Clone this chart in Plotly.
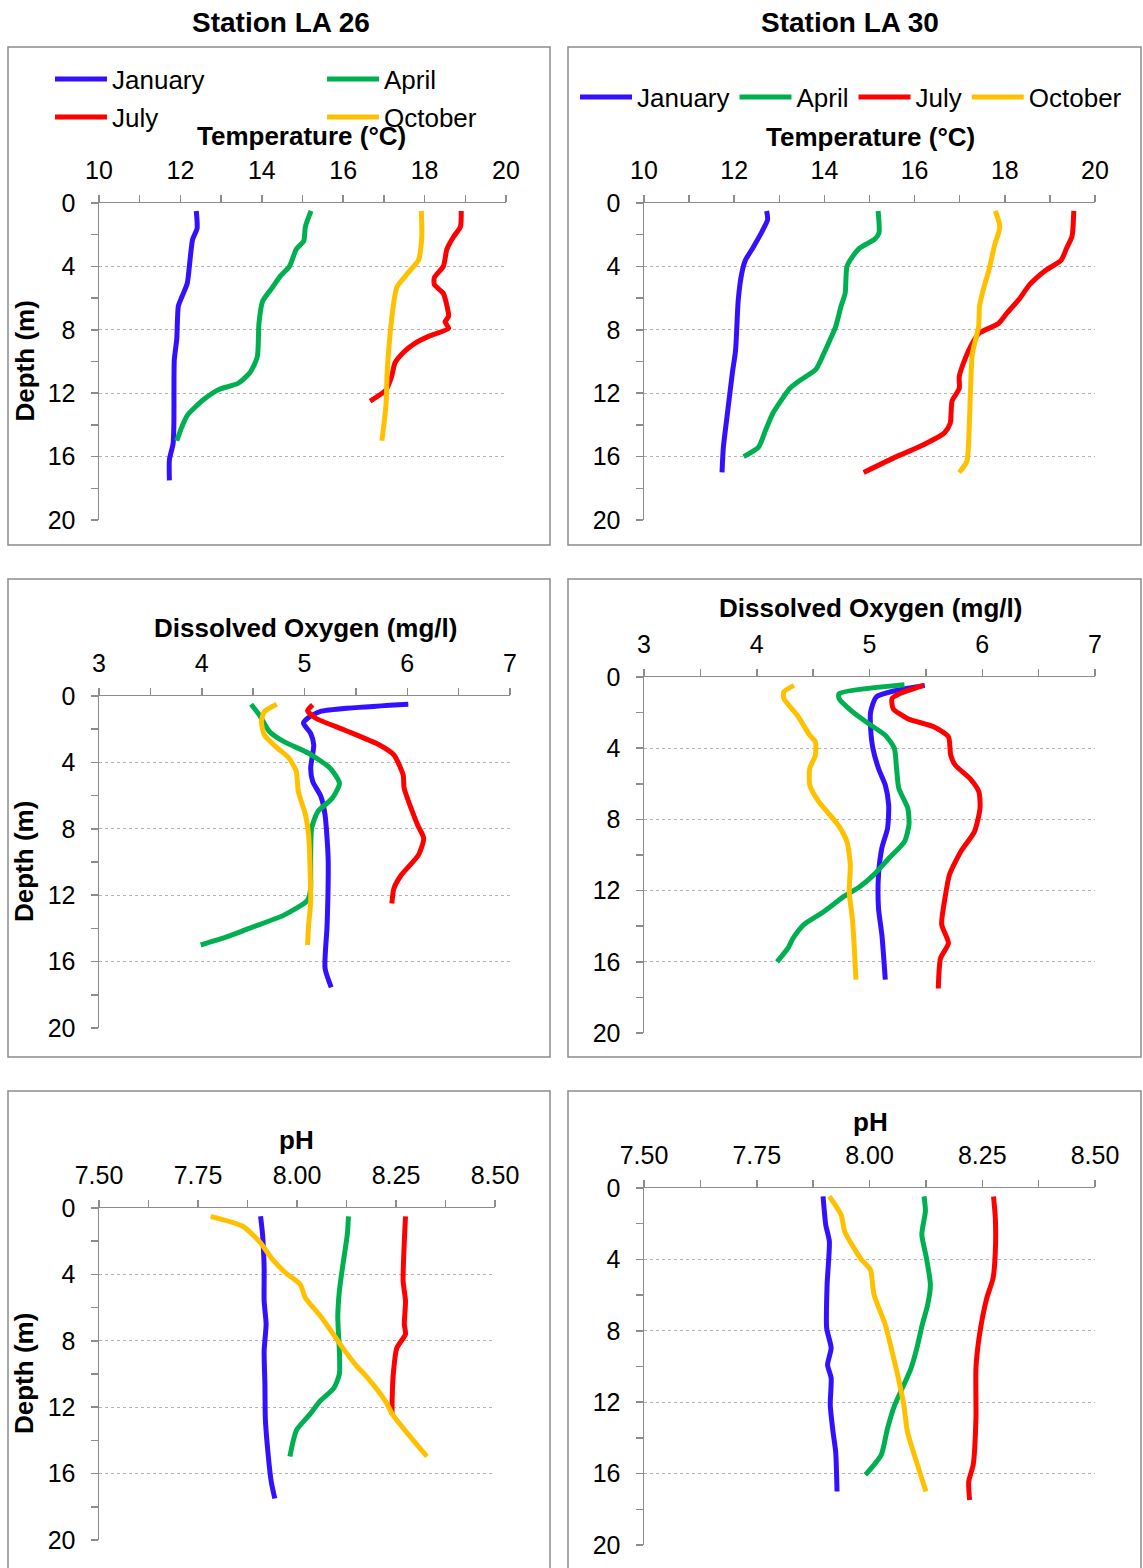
import plotly.graph_objects as go

W, H = 1143, 1568
FONT = "Liberation Sans, Arial, sans-serif"
AXIS_GRAY = "#8c8c8c"
GRID_GRAY = "#b4b4b4"

months = ["January", "April", "July", "October"]
colors = ["#3311FF", "#00B050", "#FF0000", "#FFC000"]
station_titles = ["Station LA 26", "Station LA 30"]
depth_title = "Depth (m)"
param_titles = ["Temperature (°C)", "Dissolved Oxygen (mg/l)", "pH"]

# ---------- Station LA 26 : temperature ----------
t26_jan_val = [12.39, 12.41, 12.30, 12.22, 12.17, 12.04, 11.95, 11.91, 11.85, 11.84, 11.82, 11.73, 11.73]
t26_jan_dep = [0.5, 1.6, 2.3, 4.0, 5.05, 5.9, 6.5, 8.6, 9.9, 13.9, 15.2, 16.2, 17.5]
t26_apr_val = [15.21, 15.07, 15.03, 14.85, 14.68, 14.46, 14.24, 14.02, 13.93, 13.89, 13.71, 13.40, 12.96, 12.57, 12.17, 12.04, 11.91]
t26_apr_dep = [0.5, 1.5, 2.4, 2.9, 4.0, 4.6, 5.4, 6.2, 7.6, 9.7, 10.7, 11.4, 11.75, 12.4, 13.4, 14.1, 15.0]
t26_jul_val = [18.90, 18.88, 18.72, 18.55, 18.46, 18.24, 18.24, 18.46, 18.55, 18.59, 18.50, 18.59, 18.11, 17.76, 17.49, 17.27, 17.19, 17.05, 16.66]
t26_jul_dep = [0.5, 1.5, 2.1, 2.9, 4.0, 4.7, 5.15, 5.7, 6.5, 7.15, 7.5, 7.9, 8.4, 8.85, 9.4, 10.1, 10.95, 11.8, 12.5]
t26_oct_val = [17.92, 17.93, 17.85, 17.63, 17.32, 17.23, 17.14, 17.08, 17.05, 16.95]
t26_oct_dep = [0.5, 2.1, 3.6, 4.3, 5.3, 6.5, 8.6, 10.7, 12.8, 15.0]

# ---------- Station LA 30 : temperature ----------
t30_jan_val = [12.72, 12.74, 12.58, 12.41, 12.25, 12.17, 12.09, 12.03, 11.96, 11.84, 11.76, 11.73]
t30_jan_dep = [0.5, 1.05, 2.0, 2.85, 3.6, 4.4, 6.1, 9.3, 10.7, 13.5, 15.4, 17.0]
t30_apr_val = [15.19, 15.21, 15.11, 14.78, 14.62, 14.50, 14.46, 14.37, 14.25, 14.13, 13.97, 13.81, 13.48, 13.23, 13.03, 12.86, 12.70, 12.54, 12.21]
t30_apr_dep = [0.5, 1.9, 2.3, 2.85, 3.4, 4.0, 5.7, 6.5, 7.8, 8.6, 9.6, 10.5, 11.15, 11.7, 12.5, 13.25, 14.3, 15.4, 16.0]
t30_jul_val = [19.53, 19.49, 19.37, 19.25, 18.88, 18.55, 18.31, 18.06, 17.86, 17.44, 17.28, 17.11, 16.99, 16.99, 16.83, 16.79, 16.66, 16.09, 15.60, 14.87]
t30_jul_dep = [0.5, 2.1, 2.85, 3.6, 4.3, 5.15, 6.1, 6.9, 7.6, 8.2, 8.85, 9.9, 10.95, 11.7, 12.5, 13.9, 14.5, 15.4, 16.0, 17.0]
t30_oct_val = [17.79, 17.89, 17.77, 17.65, 17.52, 17.44, 17.42, 17.28, 17.24, 17.20, 17.16, 16.99]
t30_oct_dep = [0.5, 1.5, 2.7, 4.2, 5.5, 6.5, 7.8, 9.5, 11.8, 14.9, 16.3, 17.0]

# ---------- Station LA 26 : dissolved oxygen ----------
o26_jan_val = [6.01, 5.15, 5.03, 4.99, 5.06, 5.09, 5.06, 5.08, 5.16, 5.20, 5.23, 5.22, 5.20, 5.26]
o26_jan_dep = [0.5, 0.94, 1.34, 1.64, 2.25, 2.95, 4.35, 5.15, 6.06, 7.16, 9.77, 13.8, 16.4, 17.55]
o26_apr_val = [4.48, 4.56, 4.66, 4.80, 5.04, 5.25, 5.34, 5.27, 5.13, 5.07, 5.06, 5.06, 5.03, 4.80, 4.46, 4.25, 3.99]
o26_apr_dep = [0.5, 1.14, 2.15, 2.75, 3.45, 4.35, 5.26, 6.16, 6.96, 7.96, 10.77, 11.6, 12.3, 13.2, 14.0, 14.5, 15.0]
o26_jul_val = [5.08, 5.03, 5.11, 5.39, 5.73, 5.87, 5.96, 5.97, 6.10, 6.16, 6.11, 5.94, 5.87, 5.85]
o26_jul_dep = [0.54, 0.88, 1.34, 2.05, 2.95, 3.55, 4.75, 5.56, 7.76, 8.57, 9.57, 10.8, 11.6, 12.5]
o26_oct_val = [4.73, 4.61, 4.58, 4.61, 4.72, 4.85, 4.92, 4.94, 5.01, 5.04, 5.06, 5.04, 5.03]
o26_oct_dep = [0.5, 0.94, 1.54, 2.35, 3.05, 3.75, 4.55, 5.76, 7.16, 8.37, 12.4, 13.8, 15.0]

# ---------- Station LA 30 : dissolved oxygen ----------
o30_jan_val = [5.49, 5.24, 5.06, 5.01, 5.01, 5.03, 5.08, 5.14, 5.17, 5.16, 5.11, 5.08, 5.08, 5.11, 5.14]
o30_jan_dep = [0.47, 0.75, 1.12, 1.96, 2.9, 4.0, 5.14, 6.07, 7.2, 8.5, 9.6, 11.1, 13.0, 14.5, 17.0]
o30_apr_val = [5.31, 4.73, 4.73, 4.85, 5.01, 5.14, 5.22, 5.24, 5.26, 5.34, 5.35, 5.31, 5.17, 5.04, 4.91, 4.78, 4.59, 4.42, 4.32, 4.28, 4.18]
o30_apr_dep = [0.43, 0.93, 1.21, 1.96, 2.7, 3.27, 4.0, 5.14, 6.26, 7.38, 8.3, 9.25, 10.2, 11.1, 11.8, 12.3, 13.2, 13.9, 14.7, 15.2, 16.0]
o30_jul_val = [5.48, 5.27, 5.20, 5.21, 5.34, 5.57, 5.70, 5.72, 5.76, 5.89, 5.97, 5.98, 5.93, 5.81, 5.71, 5.67, 5.64, 5.70, 5.63, 5.61]
o30_jul_dep = [0.47, 0.93, 1.21, 1.78, 2.34, 2.8, 3.36, 4.39, 4.95, 5.7, 6.45, 7.38, 8.7, 9.8, 11.1, 12.4, 13.9, 14.95, 15.8, 17.5]
o30_oct_val = [4.33, 4.24, 4.24, 4.36, 4.47, 4.52, 4.52, 4.47, 4.47, 4.55, 4.72, 4.80, 4.83, 4.82, 4.85, 4.88]
o30_oct_dep = [0.47, 0.84, 1.21, 2.15, 3.27, 3.64, 4.39, 5.14, 6.07, 7.0, 8.3, 9.25, 10.56, 12.06, 13.7, 17.0]

# ---------- Station LA 26 : pH ----------
p26_jan_val = [7.908, 7.913, 7.917, 7.917, 7.922, 7.917, 7.919, 7.920, 7.925, 7.935, 7.944]
p26_jan_dep = [0.5, 1.6, 3.6, 5.6, 7.0, 8.6, 10.65, 12.66, 14.3, 16.5, 17.5]
p26_apr_val = [8.130, 8.127, 8.116, 8.107, 8.103, 8.107, 8.107, 8.093, 8.057, 8.035, 7.999, 7.990, 7.982]
p26_apr_dep = [0.5, 1.6, 3.4, 5.0, 6.6, 8.6, 10.0, 10.85, 11.66, 12.36, 13.37, 14.07, 14.97]
p26_jul_val = [8.274, 8.271, 8.268, 8.274, 8.271, 8.274, 8.252, 8.243, 8.240, 8.240]
p26_jul_dep = [0.5, 2.0, 4.4, 5.6, 7.0, 7.6, 8.44, 10.05, 11.86, 12.46]
p26_oct_val = [7.782, 7.863, 7.908, 7.935, 7.971, 8.008, 8.021, 8.062, 8.116, 8.148, 8.179, 8.224, 8.242, 8.328]
p26_oct_dep = [0.5, 1.1, 2.1, 3.0, 3.9, 4.6, 5.4, 6.6, 8.44, 9.45, 10.25, 11.66, 12.46, 14.97]

# ---------- Station LA 30 : pH ----------
p30_jan_val = [7.897, 7.903, 7.911, 7.906, 7.905, 7.915, 7.907, 7.915, 7.913, 7.919, 7.925, 7.928]
p30_jan_dep = [0.47, 2.06, 3.0, 5.4, 7.85, 8.97, 9.9, 10.65, 12.15, 13.64, 14.77, 17.0]
p30_apr_val = [8.121, 8.124, 8.116, 8.126, 8.135, 8.129, 8.117, 8.105, 8.092, 8.076, 8.056, 8.040, 8.026, 7.991]
p30_apr_dep = [0.47, 1.3, 2.6, 3.9, 5.4, 6.54, 7.66, 8.97, 10.1, 11.03, 12.15, 13.46, 14.95, 16.07]
p30_jul_val = [8.275, 8.279, 8.279, 8.274, 8.260, 8.244, 8.236, 8.236, 8.230, 8.220, 8.222]
p30_jul_dep = [0.47, 1.68, 3.55, 5.05, 6.17, 8.22, 10.1, 12.9, 15.5, 16.45, 17.48]
p30_oct_val = [7.911, 7.937, 7.945, 7.970, 7.982, 8.002, 8.010, 8.035, 8.050, 8.064, 8.076, 8.084, 8.097, 8.125]
p30_oct_dep = [0.47, 1.5, 2.43, 3.55, 4.0, 4.58, 5.98, 7.66, 9.16, 10.65, 12.15, 13.64, 14.77, 17.0]

panels_series = [
    [(t26_jan_val, t26_jan_dep), (t26_apr_val, t26_apr_dep), (t26_jul_val, t26_jul_dep), (t26_oct_val, t26_oct_dep)],
    [(t30_jan_val, t30_jan_dep), (t30_apr_val, t30_apr_dep), (t30_jul_val, t30_jul_dep), (t30_oct_val, t30_oct_dep)],
    [(o26_jan_val, o26_jan_dep), (o26_apr_val, o26_apr_dep), (o26_jul_val, o26_jul_dep), (o26_oct_val, o26_oct_dep)],
    [(o30_jan_val, o30_jan_dep), (o30_apr_val, o30_apr_dep), (o30_jul_val, o30_jul_dep), (o30_oct_val, o30_oct_dep)],
    [(p26_jan_val, p26_jan_dep), (p26_apr_val, p26_apr_dep), (p26_jul_val, p26_jul_dep), (p26_oct_val, p26_oct_dep)],
    [(p30_jan_val, p30_jan_dep), (p30_apr_val, p30_apr_dep), (p30_jul_val, p30_jul_dep), (p30_oct_val, p30_oct_dep)],
]

# layout geometry (page pixels of the reference)
plot_px = [  # x0, x1, ytop, ybottom
    (99, 506, 203, 520),
    (644, 1095, 203, 520),
    (99, 510, 696, 1028),
    (644, 1095, 677, 1033),
    (99, 495, 1208, 1540),
    (644, 1095, 1188, 1545),
]
x_ranges = [[10, 20], [10, 20], [3, 7], [3, 7], [7.5, 8.5], [7.5, 8.5]]
x_dticks = [2, 2, 1, 1, 0.25, 0.25]
x_minor = [1, 1, 0.5, 0.5, 0.125, 0.125]
x_formats = ["d", "d", "d", "d", ".2f", ".2f"]
title_px = [(301, 136), (870, 137), (305, 628), (870, 608), (296, 1140), (870, 1122)]
boxes_px = [(8, 47, 550, 545), (568, 47, 1141, 545), (8, 579, 550, 1057), (568, 579, 1141, 1057),
            (8, 1091, 550, 1600), (568, 1091, 1141, 1600)]


def px(x):
    return x / W


def py(y):
    return 1 - y / H


fig = go.Figure()

for p in range(6):
    ax = "" if p == 0 else str(p + 1)
    for s in range(4):
        vals, deps = panels_series[p][s]
        if p == 0:
            leg = "legend" if s < 2 else "legend2"
            show = True
        elif p == 1:
            leg = "legend3"
            show = True
        else:
            leg = "legend"
            show = False
        fig.add_trace(go.Scatter(
            x=vals, y=deps, mode="lines", name=months[s],
            line=dict(color=colors[s], width=5, shape="spline", smoothing=0.6),
            xaxis="x" + ax, yaxis="y" + ax, showlegend=show, legend=leg,
            hoverinfo="skip",
        ))

    x0, x1, yt, yb = plot_px[p]
    fig.layout["xaxis" + ax] = dict(
        domain=[px(x0), px(x1)], anchor="y" + ax, side="top", automargin=False,
        range=x_ranges[p], dtick=x_dticks[p], tick0=x_ranges[p][0], tickformat=x_formats[p],
        showline=True, linecolor=AXIS_GRAY, linewidth=1.5,
        ticks="outside", ticklen=7, tickcolor=AXIS_GRAY, tickwidth=1.5,
        minor=dict(dtick=x_minor[p], tick0=x_ranges[p][0], ticks="outside", ticklen=7,
                   tickcolor=AXIS_GRAY, tickwidth=1.5, showgrid=False),
        showgrid=False, zeroline=False, ticklabelstandoff=6,
        tickfont=dict(family=FONT, size=25, color="black"), fixedrange=True,
    )
    fig.layout["yaxis" + ax] = dict(
        domain=[py(yb), py(yt)], anchor="x" + ax, automargin=False,
        range=[20, 0], dtick=4, tick0=0,
        showline=True, linecolor=AXIS_GRAY, linewidth=1.5,
        ticks="outside", ticklen=7, tickcolor=AXIS_GRAY, tickwidth=1.5,
        minor=dict(dtick=2, tick0=0, ticks="outside", ticklen=7,
                   tickcolor=AXIS_GRAY, tickwidth=1.5, showgrid=False),
        showgrid=True, gridcolor=GRID_GRAY, griddash="dot", gridwidth=1,
        zeroline=False, ticklabelstandoff=10,
        tickfont=dict(family=FONT, size=25, color="black"), fixedrange=True,
    )

shapes = []
for (bx0, by0, bx1, by1) in boxes_px:
    shapes.append(dict(type="rect", xref="paper", yref="paper",
                       x0=px(bx0), x1=px(bx1), y0=py(by1), y1=py(by0),
                       line=dict(color=AXIS_GRAY, width=1.5), fillcolor="rgba(0,0,0,0)", layer="below"))

annotations = []
for i, (tx, ty) in enumerate([(281, 22), (850, 22)]):
    annotations.append(dict(text="<b>" + station_titles[i] + "</b>", x=px(tx), y=py(ty),
                            xref="paper", yref="paper", showarrow=False,
                            xanchor="center", yanchor="middle",
                            font=dict(family=FONT, size=28, color="black")))
for p in range(6):
    tx, ty = title_px[p]
    annotations.append(dict(text="<b>" + param_titles[p // 2] + "</b>", x=px(tx), y=py(ty),
                            xref="paper", yref="paper", showarrow=False,
                            xanchor="center", yanchor="middle",
                            font=dict(family=FONT, size=26, color="black")))
for p in (0, 2, 4):
    x0, x1, yt, yb = plot_px[p]
    annotations.append(dict(text="<b>" + depth_title + "</b>", x=px(24), y=py((yt + yb) / 2),
                            xref="paper", yref="paper", showarrow=False, textangle=-90,
                            xanchor="center", yanchor="middle",
                            font=dict(family=FONT, size=26, color="black")))

legend_common = dict(orientation="h", xanchor="left", yanchor="middle",
                     bgcolor="rgba(0,0,0,0)", borderwidth=0, itemwidth=52,
                     font=dict(family=FONT, size=26, color="black"),
                     itemclick=False, itemdoubleclick=False, tracegroupgap=0)

fig.update_layout(
    width=W, height=H, margin=dict(l=0, r=0, t=0, b=0, autoexpand=False),
    paper_bgcolor="white", plot_bgcolor="white",
    font=dict(family=FONT, color="black"),
    hovermode=False,
    shapes=shapes, annotations=annotations,
    legend=dict(x=px(50), y=py(79), entrywidth=205, entrywidthmode="pixels", **legend_common),
    legend2=dict(x=px(50), y=py(117), entrywidth=205, entrywidthmode="pixels", **legend_common),
    legend3=dict(x=px(575), y=py(97), **legend_common),
)

# remove the default 8 px page margin so the figure fills the window exactly
fig.write_html("out.html",
               config={"displayModeBar": False, "staticPlot": True},
               post_script="document.body.style.margin='0px';document.body.style.overflow='hidden';")
